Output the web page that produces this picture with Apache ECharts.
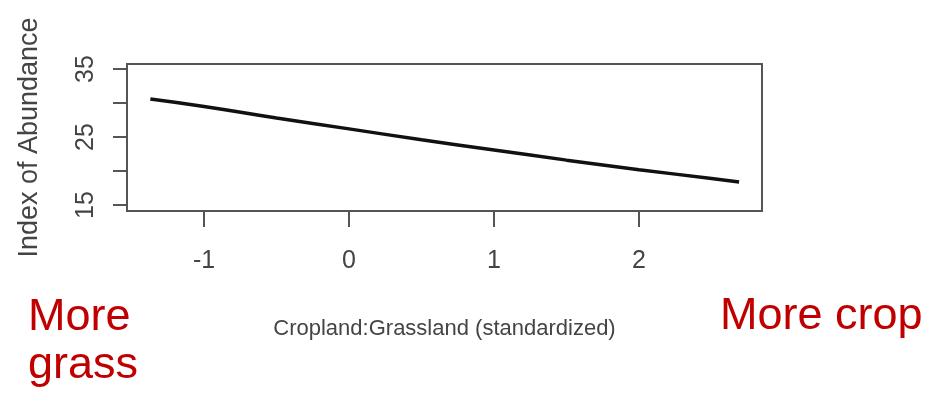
<!DOCTYPE html>
<html>
<head>
<meta charset="utf-8">
<script src="https://cdn.jsdelivr.net/npm/echarts@6/dist/echarts.min.js"></script>
<style>
  html, body { margin: 0; padding: 0; background: #fff; }
  #chart { width: 933px; height: 394px; }
</style>
</head>
<body>
<div id="chart"></div>
<script>
// Fitted abundance index along the cropland:grassland gradient
const croplandGrassland = [-1.37, -1, -0.5, 0, 0.5, 1, 1.5, 2, 2.5, 2.69];
const abundance = [30.6, 29.5, 27.8, 26.2, 24.6, 23.1, 21.6, 20.2, 18.9, 18.4];

// Axis ticks and labels
const xTicks = [-1, 0, 1, 2];
const yTicks = [15, 20, 25, 30, 35];
const yLabels = [15, 25, 35];

const axisGray = '#555';
const textGray = '#444';

const chart = echarts.init(document.getElementById('chart'));
chart.setOption({
  backgroundColor: '#fff',
  animation: false,
  grid: {
    left: 127, right: 171, top: 64, bottom: 183,
    show: true, borderColor: axisGray, borderWidth: 2
  },
  xAxis: {
    type: 'value',
    min: -1.531, max: 2.848,
    name: 'Cropland:Grassland (standardized)',
    nameLocation: 'middle',
    nameGap: 107,
    nameTextStyle: { fontFamily: 'Liberation Sans', fontSize: 22, color: textGray },
    splitLine: { show: false },
    axisLine: { show: true, onZero: false, lineStyle: { color: axisGray, width: 2 } },
    axisTick: { show: true, length: 16, customValues: xTicks, lineStyle: { color: axisGray, width: 2 } },
    axisLabel: {
      customValues: xTicks,
      margin: 38,
      fontFamily: 'Liberation Sans', fontSize: 25, color: textGray
    }
  },
  yAxis: {
    type: 'value',
    min: 14.12, max: 35.74,
    name: 'Index of Abundance',
    nameLocation: 'middle',
    nameRotate: 90,
    nameGap: 84,
    nameTextStyle: { fontFamily: 'Liberation Sans', fontSize: 27, color: textGray },
    splitLine: { show: false },
    axisLine: { show: true, onZero: false, lineStyle: { color: axisGray, width: 2 } },
    axisTick: { show: true, length: 14, customValues: yTicks, lineStyle: { color: axisGray, width: 2 } },
    axisLabel: {
      customValues: yLabels,
      rotate: 90,
      margin: 28,
      fontFamily: 'Liberation Sans', fontSize: 25, color: textGray
    }
  },
  series: [{
    type: 'line',
    data: croplandGrassland.map((x, i) => [x, abundance[i]]),
    smooth: true,
    showSymbol: false,
    lineStyle: { color: '#111', width: 3.5 }
  }],
  graphic: [
    { type: 'text', left: 28, top: 294,
      style: { text: 'More\ngrass', fontFamily: 'Liberation Sans', fontSize: 45, lineHeight: 48, fill: '#c00000' } },
    { type: 'text', left: 720, top: 294,
      style: { text: 'More crop', fontFamily: 'Liberation Sans', fontSize: 45, fill: '#c00000' } }
  ]
});
</script>
</body>
</html>
